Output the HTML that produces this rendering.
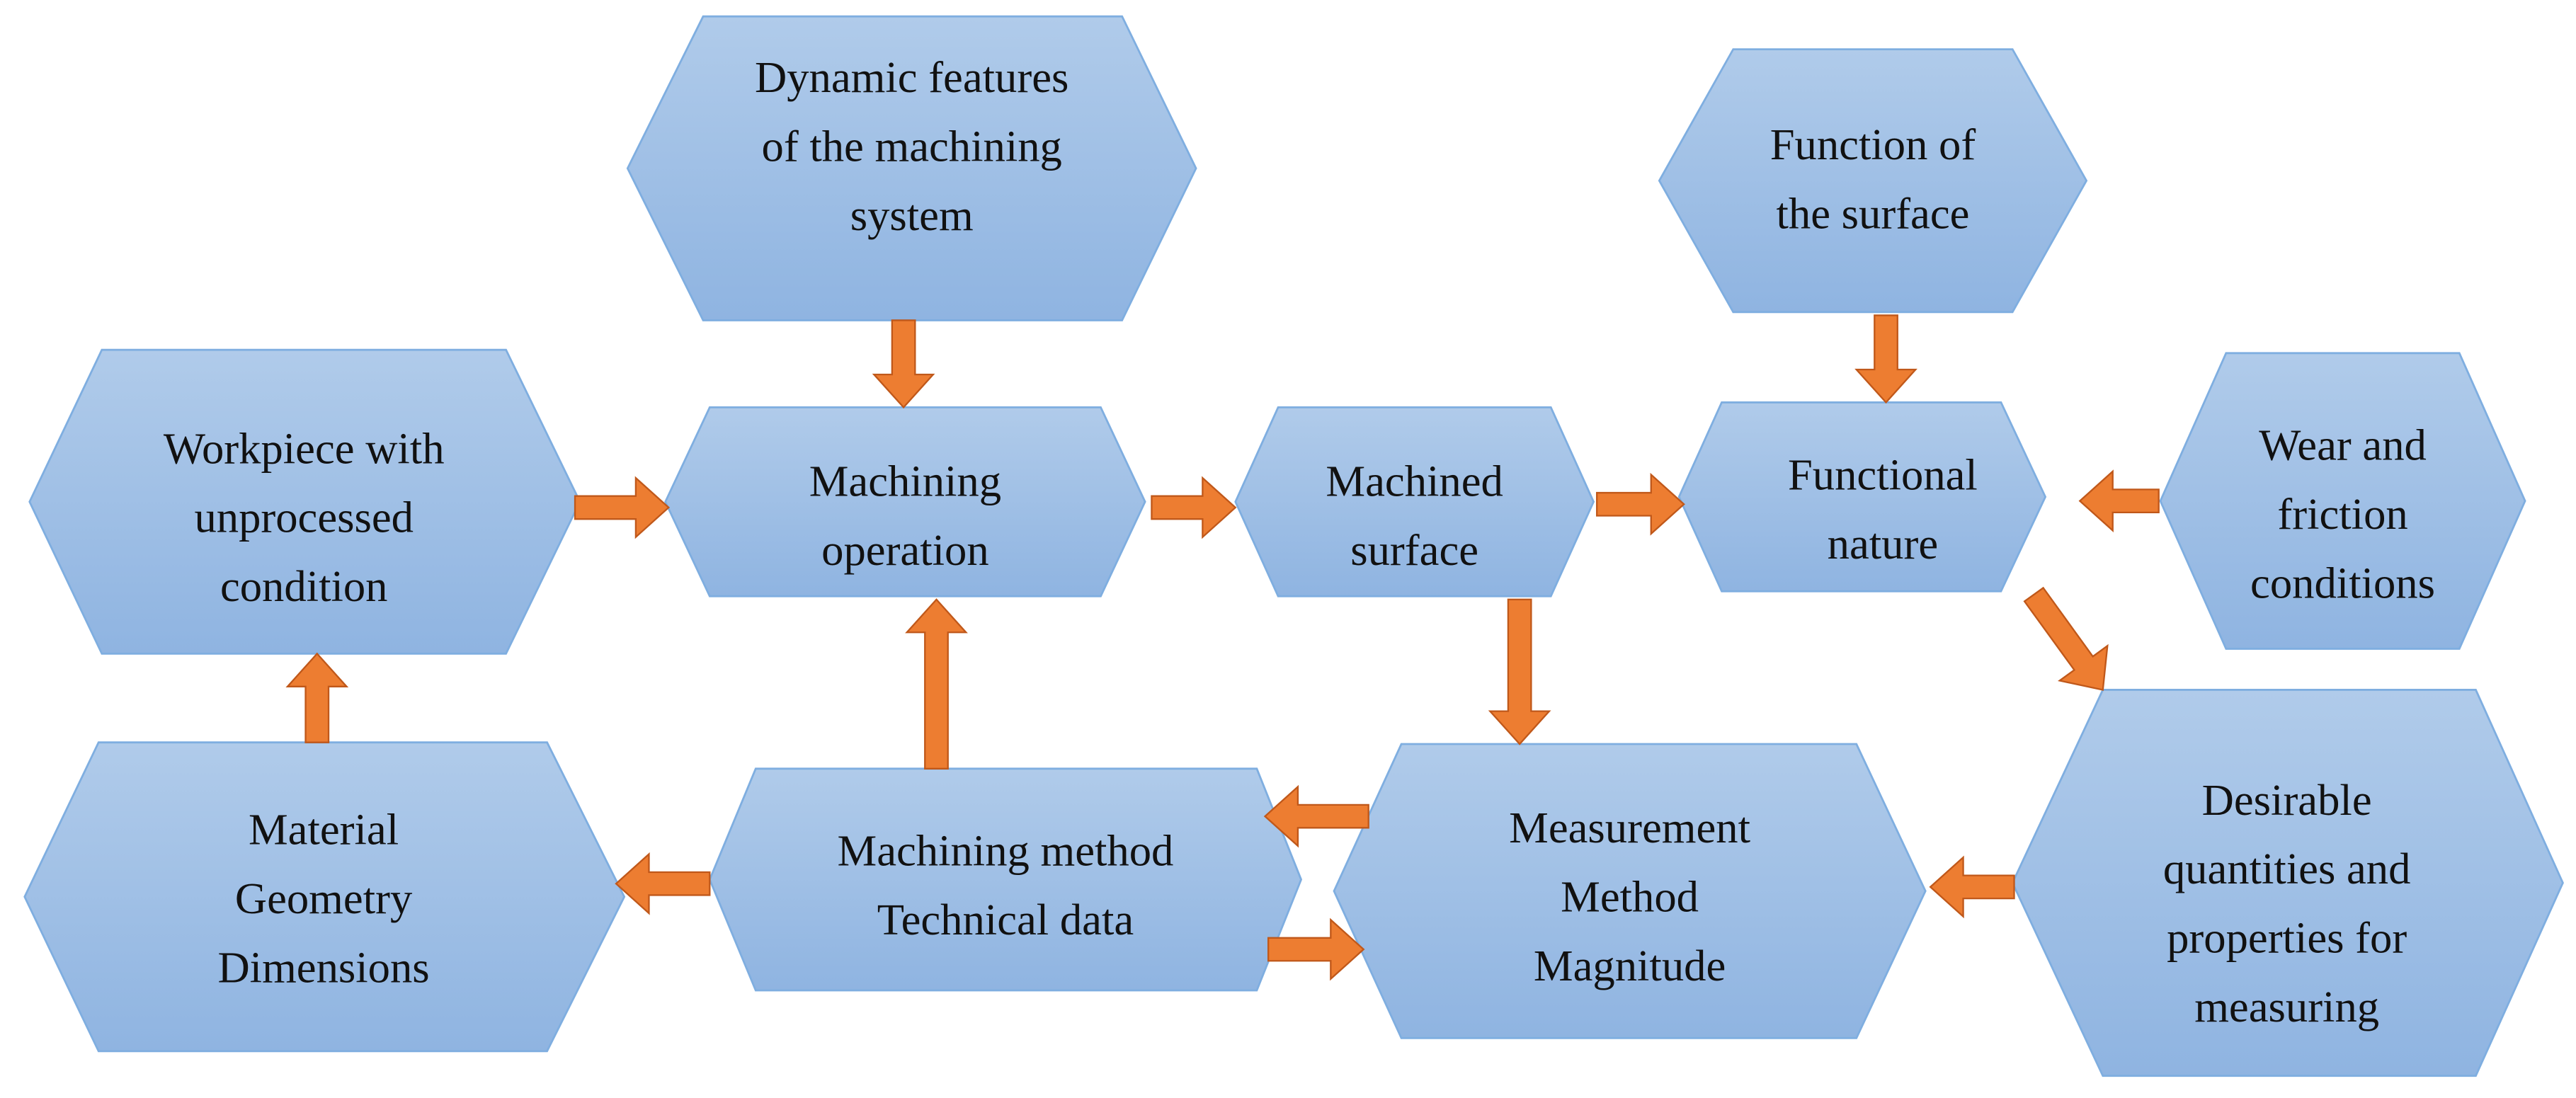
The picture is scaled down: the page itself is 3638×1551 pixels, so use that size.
<!DOCTYPE html>
<html><head><meta charset="utf-8"><style>
html,body{margin:0;padding:0;background:#fff;}
svg{display:block;}
text{font-family:"Liberation Serif",serif;font-size:27px;fill:#111;text-anchor:middle;}
</style></head><body>
<svg id="s" width="3638" height="1551" viewBox="0 0 1568 668.5" preserveAspectRatio="none" xmlns="http://www.w3.org/2000/svg">
<defs><linearGradient id="g" x1="0" y1="0" x2="0" y2="1">
<stop offset="0" stop-color="#b0cbea"/><stop offset="1" stop-color="#8fb4e1"/></linearGradient></defs>
<g id="shapes"></g>
<g id="arrows"></g>
<text x="555" y="56">Dynamic features</text>
<text x="555" y="98">of the machining</text>
<text x="555" y="140">system</text>
<text x="185" y="282">Workpiece with</text>
<text x="185" y="324">unprocessed</text>
<text x="185" y="366">condition</text>
<text x="551" y="302">Machining</text>
<text x="551" y="344">operation</text>
<text x="861" y="302">Machined</text>
<text x="861" y="344">surface</text>
<text x="1140" y="97">Function of</text>
<text x="1140" y="139">the surface</text>
<text x="1146" y="298">Functional</text>
<text x="1146" y="340">nature</text>
<text x="1426" y="280">Wear and</text>
<text x="1426" y="322">friction</text>
<text x="1426" y="364">conditions</text>
<text x="197" y="514">Material</text>
<text x="197" y="556">Geometry</text>
<text x="197" y="598">Dimensions</text>
<text x="612" y="527">Machining method</text>
<text x="612" y="569">Technical data</text>
<text x="992" y="513">Measurement</text>
<text x="992" y="555">Method</text>
<text x="992" y="597">Magnitude</text>
<text x="1392" y="496">Desirable</text>
<text x="1392" y="538">quantities and</text>
<text x="1392" y="580">properties for</text>
<text x="1392" y="622">measuring</text>
</svg>
<script>
var NS="http://www.w3.org/2000/svg";
var hex=[[382,728,10,195,428,683],[18,353,213,398,62,308],[405,697,248,363,432,670],[752,970,248,363,778,944],
[1010,1270,30,190,1055,1225],[1022,1245,245,360,1048,1218],[1315,1537,215,395,1355,1497],
[15,380,452,640,60,333],[432,792,468,603,460,765],[812,1172,453,632,853,1130],[1225,1560,420,655,1280,1507]];
var sg=document.getElementById('shapes');
hex.forEach(function(h){var m=(h[2]+h[3])/2;var p=document.createElementNS(NS,'polygon');
p.setAttribute('points',[h[0]+','+m,h[4]+','+h[2],h[5]+','+h[2],h[1]+','+m,h[5]+','+h[3],h[4]+','+h[3]].join(' '));
p.setAttribute('fill','url(#g)');p.setAttribute('stroke','#7faee0');p.setAttribute('stroke-width','1.2');sg.appendChild(p);});
function arrow(x1,y1,x2,y2){var dx=x2-x1,dy=y2-y1,L=Math.hypot(dx,dy),ux=dx/L,uy=dy/L,nx=-uy,ny=ux;
var sw=7,hw=18,hl=Math.min(20,L*0.45),bx=x2-ux*hl,by=y2-uy*hl;
var pts=[[x1+nx*sw,y1+ny*sw],[bx+nx*sw,by+ny*sw],[bx+nx*hw,by+ny*hw],[x2,y2],[bx-nx*hw,by-ny*hw],[bx-nx*sw,by-ny*sw],[x1-nx*sw,y1-ny*sw]];
var p=document.createElementNS(NS,'polygon');p.setAttribute('points',pts.map(function(q){return q[0].toFixed(1)+','+q[1].toFixed(1)}).join(' '));
p.setAttribute('fill','#ed7d31');p.setAttribute('stroke','#c0581a');p.setAttribute('stroke-width','1');document.getElementById('arrows').appendChild(p);}
arrow(550,195,550,248);
arrow(350,309,407,309);
arrow(701,309,752,309);
arrow(972,307,1025,307);
arrow(1148,192,1148,245);
arrow(1314,305,1266,305);
arrow(1238,362,1280,420);
arrow(925,365,925,453);
arrow(833,497,770,497);
arrow(772,578,830,578);
arrow(1226,540,1175,540);
arrow(570,468,570,365);
arrow(432,538,375,538);
arrow(193,452,193,398);
</script>
</body></html>
